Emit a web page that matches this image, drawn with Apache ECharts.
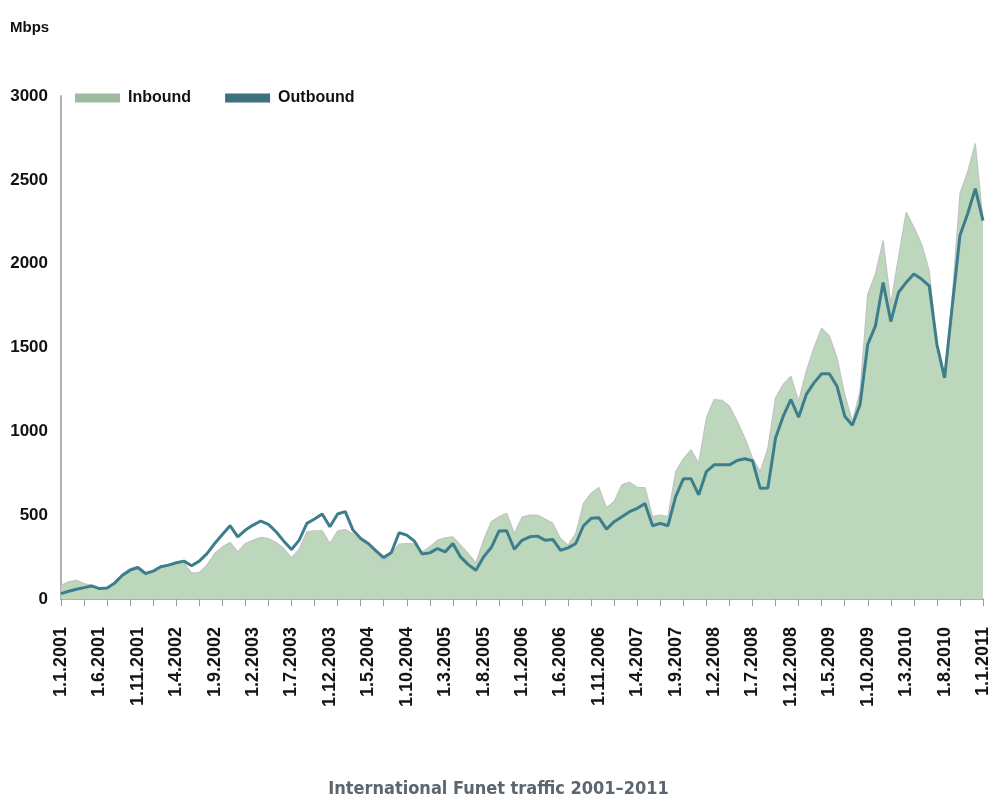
<!DOCTYPE html>
<html><head><meta charset="utf-8">
<script src="https://cdn.jsdelivr.net/npm/echarts@6/dist/echarts.min.js"></script>
<style>html,body{margin:0;padding:0;background:#fff}#c{width:997px;height:802px}</style>
</head><body><div id="c"></div>
<script>
// Monthly categories 1.1.2001 ... 1.1.2011
const startYear = 2001;
const monthCount = 121;
const categories = [];
for (let i = 0; i < monthCount; i++) {
  categories.push('1.' + (i % 12 + 1) + '.' + (startYear + Math.floor(i / 12)));
}

const seriesNames = ['Inbound', 'Outbound'];

const inbound = [
  82, 102, 112, 92, 82, 58, 66, 100, 150, 182,
  195, 150, 165, 195, 205, 212, 212, 156, 158, 202,
  271, 311, 337, 281, 331, 351, 367, 361, 337, 301,
  245, 297, 401, 407, 407, 331, 405, 415, 387, 345,
  321, 277, 231, 269, 327, 331, 329, 281, 311, 351,
  365, 371, 321, 271, 215, 351, 461, 491, 511, 391,
  488, 501, 501, 477, 451, 361, 321, 391, 571, 631,
  665, 545, 581, 681, 697, 665, 665, 491, 501, 491,
  760, 836, 890, 810, 1080, 1190, 1185, 1150, 1060, 960,
  840, 760, 900, 1200, 1280, 1329, 1180, 1359, 1499, 1615,
  1569, 1439, 1220, 1060, 1240, 1819, 1938, 2138, 1759, 2038,
  2307, 2217, 2118, 1958, 1519, 1325, 1798, 2417, 2547, 2717,
  2257
];

const outbound = [
  32, 46, 58, 68, 78, 62, 66, 96, 142, 172,
  188, 152, 166, 192, 202, 216, 226, 198, 226, 271,
  331, 385, 437, 371, 411, 441, 465, 445, 401, 345,
  295, 351, 451, 477, 507, 431, 507, 521, 411, 361,
  331, 287, 247, 277, 395, 381, 345, 268, 275, 301,
  281, 331, 251, 205, 172, 251, 307, 405, 407, 297,
  350, 371, 375, 351, 355, 291, 305, 331, 437, 481,
  485, 417, 461, 491, 521, 541, 569, 437, 451, 437,
  611, 717, 717, 621, 760, 800, 800, 800, 826, 836,
  825, 660, 662, 960, 1090, 1190, 1084, 1220, 1289, 1343,
  1343, 1269, 1090, 1036, 1160, 1519, 1629, 1888, 1655, 1828,
  1888, 1938, 1908, 1868, 1519, 1319, 1748, 2168, 2298, 2447,
  2257
];

const yMin = 0, yMax = 3000, yStep = 500;
const unitLabel = 'Mbps';
const chartTitle = 'International Funet traffic 2001–2011';

const sansBold = '"Liberation Sans", Arial, sans-serif';
const condensed = '"DejaVu Sans Condensed", "Liberation Sans", sans-serif';

const chart = echarts.init(document.getElementById('c'), null, {renderer: 'canvas'});
chart.setOption({
  animation: false,
  backgroundColor: '#ffffff',
  title: {
    text: chartTitle,
    left: 'center',
    top: 780,
    padding: 0,
    textStyle: {fontFamily: condensed, fontWeight: 'bold', fontSize: 18, color: '#5b6670'}
  },
  legend: {
    left: 75,
    top: 90,
    padding: 0,
    itemWidth: 45,
    itemHeight: 9,
    itemGap: 34,
    textStyle: {fontFamily: sansBold, fontWeight: 'bold', fontSize: 16, color: '#111', padding: [0, 0, 0, 3]},
    data: [
      {name: seriesNames[0], icon: 'rect', itemStyle: {color: '#9dbba1', borderWidth: 0}},
      {name: seriesNames[1], icon: 'rect', itemStyle: {color: '#3e717b', borderWidth: 0}}
    ]
  },
  graphic: [{
    type: 'text', left: 10, top: 20,
    style: {text: unitLabel, font: 'bold 15px ' + sansBold, fill: '#111'}
  }],
  grid: {left: 61, right: 14, top: 96, height: 503, containLabel: false, outerBoundsMode: 'none'},
  xAxis: {
    type: 'category',
    data: categories,
    boundaryGap: false,
    offset: 4,
    axisLine: {lineStyle: {color: '#b0b0b0', width: 2}},
    axisTick: {interval: 2, length: 7, lineStyle: {color: '#999', width: 1}},
    axisLabel: {
      interval: 4, rotate: 90, margin: 24,
      padding: [7, 0, 0, 0],
      fontFamily: sansBold, fontWeight: 'bold',
      fontSize: 18, color: '#151515'
    },
    splitLine: {show: false}
  },
  yAxis: {
    type: 'value',
    min: yMin, max: yMax, interval: yStep,
    axisLine: {show: true, lineStyle: {color: '#b0b0b0', width: 2}},
    axisTick: {show: false},
    splitLine: {show: false},
    axisLabel: {
      margin: 13, fontFamily: sansBold, fontWeight: 'bold', fontSize: 17, color: '#111',
      formatter: function (v) { return String(v); }
    }
  },
  series: [
    {
      name: seriesNames[0], type: 'line', data: inbound,
      symbol: 'none', z: 1,
      lineStyle: {color: '#c2c2c2', width: 1.2},
      itemStyle: {color: '#9dbba1'},
      areaStyle: {color: '#bdd7bd', opacity: 1}
    },
    {
      name: seriesNames[1], type: 'line', data: outbound,
      symbol: 'none', z: 2,
      lineStyle: {color: '#3d7e8d', width: 3},
      itemStyle: {color: '#3e717b'}
    }
  ]
});
</script>
</body></html>
